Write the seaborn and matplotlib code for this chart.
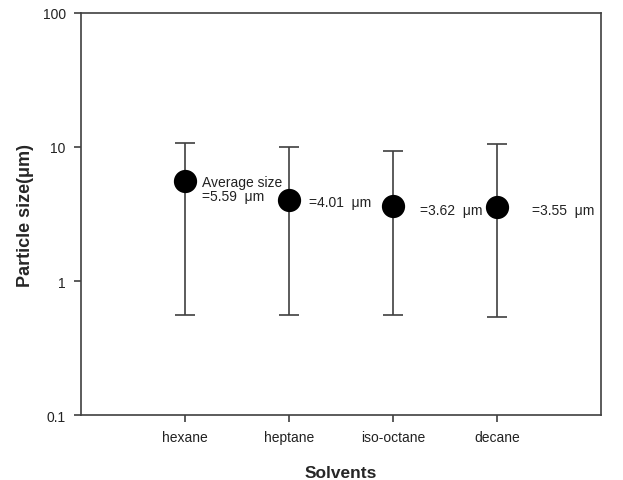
import numpy as np
import matplotlib
matplotlib.use("Agg")
import matplotlib.pyplot as plt
import seaborn as sns
import pandas as pd

# Data
solvents = ["hexane", "heptane", "iso-octane", "decane"]
avg_size = [5.59, 4.01, 3.62, 3.55]
upper = [10.7, 10.0, 9.4, 10.5]
lower = [0.56, 0.56, 0.56, 0.54]
labels = ["Average size\n=5.59  \u03bcm", "=4.01  \u03bcm", "=3.62  \u03bcm", "=3.55  \u03bcm"]

sns.set_style("ticks")
plt.rcParams['font.family'] = ['Liberation Sans', 'DejaVu Sans']

line_color = '#404040'

df = pd.DataFrame({'pos': np.arange(len(solvents)), 'size': avg_size,
                   'upper': upper, 'lower': lower})

fig = plt.figure(figsize=(6.23, 4.81), dpi=100)
ax = fig.add_axes([0.130, 0.135, 0.835, 0.836])

# error bars (asymmetric, min/max)
yerr = [df['size'] - df['lower'], df['upper'] - df['size']]
ax.errorbar(df['pos'], df['size'], yerr=yerr, fmt='none', ecolor=line_color,
            elinewidth=1.2, capsize=7.5, capthick=1.2, zorder=2)

sns.scatterplot(data=df, x='pos', y='size', s=240, color='black',
                edgecolor='black', ax=ax, zorder=3, legend=False)

# annotations next to the markers (offsets in points)
offsets = [(12.5, -6), (14.5, -1), (19, -3), (25, -2)]
for x, y, txt, off in zip(df['pos'], df['size'], labels, offsets):
    ax.annotate(txt, (x, y), xytext=off, textcoords='offset points',
                ha='left', va='center', fontsize=10, color='#222222',
                linespacing=1.05)

ax.set_yscale('log')
ax.set_ylim(0.1, 100)
ax.set_xlim(-1, 4)
ax.set_yticks([0.1, 1, 10, 100])
ax.set_yticklabels(['0.1', '1', '10', '100'])
ax.yaxis.set_minor_locator(matplotlib.ticker.NullLocator())
ax.set_xticks(df['pos'])
ax.set_xticklabels(solvents)

for sp in ax.spines.values():
    sp.set_visible(True)
    sp.set_color(line_color)
    sp.set_linewidth(1.2)
ax.tick_params(axis='both', direction='out', length=5, width=1.2,
               colors=line_color, labelcolor='#222222', labelsize=10, pad=6)

ax.set_xlabel('Solvents', fontsize=12.5, fontweight='bold', labelpad=15)
ax.set_ylabel('Particle size(\u03bcm)', fontsize=13, fontweight='bold', labelpad=6)

fig.savefig('out.png', dpi=100)
